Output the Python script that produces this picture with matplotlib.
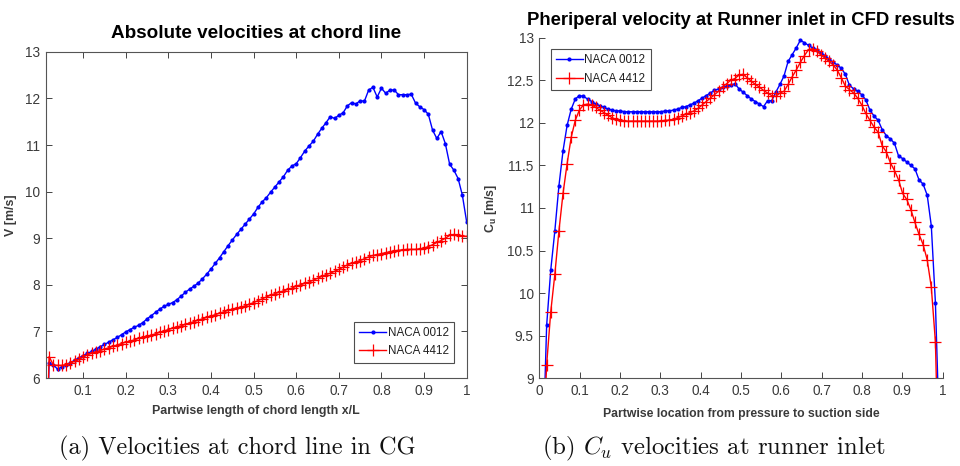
import numpy as np
import matplotlib
matplotlib.use("Agg")
import matplotlib.pyplot as plt
from matplotlib.ticker import FormatStrFormatter, FixedLocator

plt.rcParams['font.family'] = ['Liberation Sans', 'DejaVu Sans']
plt.rcParams['mathtext.fontset'] = 'custom'
plt.rcParams['mathtext.rm'] = 'Liberation Sans'
plt.rcParams['mathtext.bf'] = 'Liberation Sans:bold'
plt.rcParams['mathtext.it'] = 'Liberation Sans:italic'

# ---------------- data: (a) chord line ----------------
chord_x = np.round(np.arange(1, 101) / 100.0, 2)
naca0012_chord = [
    3.0, 6.32, 6.28, 6.19, 6.24, 6.28, 6.33, 6.38, 6.43, 6.48,
    6.53, 6.57, 6.62, 6.67, 6.72, 6.77, 6.82, 6.87, 6.93, 6.99,
    7.04, 7.09, 7.13, 7.19, 7.27, 7.34, 7.41, 7.48, 7.54, 7.58,
    7.62, 7.68, 7.76, 7.84, 7.91, 7.97, 8.04, 8.13, 8.23, 8.34,
    8.46, 8.58, 8.71, 8.84, 8.96, 9.08, 9.19, 9.30, 9.41, 9.52,
    9.66, 9.78, 9.87, 9.99, 10.10, 10.21, 10.32, 10.46, 10.55, 10.60,
    10.73, 10.87, 10.98, 11.08, 11.23, 11.36, 11.48, 11.61, 11.57, 11.64,
    11.69, 11.84, 11.91, 11.88, 11.95, 11.94, 12.18, 12.24, 12.03, 12.22,
    12.11, 12.18, 12.18, 12.08, 12.08, 12.08, 12.09, 11.90, 11.82, 11.76,
    11.66, 11.32, 11.14, 11.29, 11.03, 10.59, 10.46, 10.28, 9.92, 9.35,
]
naca4412_chord = [
    3.0, 6.46, 6.28, 6.27, 6.27, 6.29, 6.32, 6.36, 6.40, 6.46,
    6.50, 6.53, 6.56, 6.59, 6.62, 6.65, 6.68, 6.71, 6.74, 6.77,
    6.79, 6.82, 6.85, 6.87, 6.90, 6.92, 6.95, 6.98, 7.01, 7.04,
    7.07, 7.10, 7.12, 7.15, 7.18, 7.21, 7.24, 7.27, 7.30, 7.33,
    7.36, 7.39, 7.42, 7.45, 7.48, 7.50, 7.52, 7.55, 7.58, 7.62,
    7.66, 7.70, 7.74, 7.78, 7.81, 7.84, 7.87, 7.90, 7.93, 7.97,
    8.00, 8.03, 8.06, 8.10, 8.14, 8.18, 8.22, 8.25, 8.29, 8.33,
    8.38, 8.43, 8.46, 8.49, 8.52, 8.56, 8.60, 8.63, 8.65, 8.67,
    8.69, 8.71, 8.73, 8.74, 8.75, 8.76, 8.76, 8.76, 8.77, 8.79,
    8.82, 8.86, 8.91, 8.95, 9.00, 9.06, 9.08, 9.06, 9.04, 9.04,
]

# ---------------- data: (b) runner inlet ----------------
inlet_x = np.linspace(0.008, 0.992, 98)
naca0012_cu = [
    8.0, 9.62, 10.27, 10.73, 11.26, 11.67, 11.97, 12.16, 12.28, 12.32,
    12.31, 12.28, 12.25, 12.22, 12.20, 12.18, 12.16, 12.15, 12.14, 12.14,
    12.13, 12.13, 12.13, 12.13, 12.13, 12.13, 12.13, 12.13, 12.13, 12.13,
    12.14, 12.14, 12.15, 12.16, 12.18, 12.19, 12.21, 12.23, 12.26, 12.29,
    12.32, 12.35, 12.38, 12.40, 12.42, 12.43, 12.44, 12.46, 12.40, 12.36,
    12.32, 12.28, 12.25, 12.22, 12.19, 12.26, 12.26, 12.36, 12.45, 12.55,
    12.72, 12.80, 12.88, 12.97, 12.94, 12.91, 12.88, 12.86, 12.82, 12.79,
    12.75, 12.71, 12.68, 12.64, 12.57, 12.44, 12.40, 12.37, 12.33, 12.27,
    12.15, 12.08, 12.03, 11.92, 11.85, 11.81, 11.76, 11.61, 11.58, 11.54,
    11.50, 11.46, 11.33, 11.28, 11.15, 10.79, 9.89, 8.3,
]
naca4412_cu = [
    8.0, 9.16, 9.78, 10.22, 10.73, 11.17, 11.52, 11.83, 12.03, 12.15,
    12.21, 12.22, 12.21, 12.18, 12.15, 12.12, 12.09, 12.06, 12.04, 12.03,
    12.02, 12.02, 12.02, 12.02, 12.02, 12.02, 12.02, 12.02, 12.02, 12.02,
    12.03, 12.03, 12.04, 12.06, 12.08, 12.10, 12.12, 12.14, 12.17, 12.21,
    12.25, 12.29, 12.33, 12.37, 12.42, 12.46, 12.50, 12.52, 12.56, 12.57,
    12.53, 12.49, 12.45, 12.42, 12.38, 12.35, 12.32, 12.31, 12.35, 12.37,
    12.45, 12.54, 12.62, 12.71, 12.79, 12.86, 12.87, 12.84, 12.80, 12.76,
    12.72, 12.68, 12.62, 12.53, 12.43, 12.39, 12.35, 12.29, 12.21, 12.11,
    12.03, 11.95, 11.89, 11.73, 11.66, 11.53, 11.44, 11.33, 11.17, 11.10,
    10.98, 10.83, 10.69, 10.57, 10.39, 10.07, 9.43, 7.5,
]

series_labels = ['NACA 0012', 'NACA 4412']
left_xticks = [0.1, 0.2, 0.3, 0.4, 0.5, 0.6, 0.7, 0.8, 0.9, 1.0]
left_yticks = [6, 7, 8, 9, 10, 11, 12, 13]
right_xticks = [0, 0.1, 0.2, 0.3, 0.4, 0.5, 0.6, 0.7, 0.8, 0.9, 1.0]
right_yticks = [9, 9.5, 10, 10.5, 11, 11.5, 12, 12.5, 13]

AXC = '#3a3a3a'
TICKC = '#3a3a3a'

fig = plt.figure(figsize=(9.6, 4.66), dpi=100)

def style(ax, box):
    for s in ax.spines.values():
        s.set_color('#555555')
        s.set_linewidth(0.8)
    if not box:
        ax.spines['top'].set_visible(False)
        ax.spines['right'].set_visible(False)
    ax.tick_params(direction='in', length=4, width=0.7, color='#444444',
                   labelsize=9.8, labelcolor=TICKC, top=box, right=box, pad=4)
    ax.xaxis.set_major_formatter(FormatStrFormatter('%g'))
    ax.yaxis.set_major_formatter(FormatStrFormatter('%g'))

def legend(ax, loc, anchor):
    lg = ax.legend(loc=loc, fontsize=8.4, frameon=True, fancybox=False,
                   edgecolor='#222222', borderpad=0.45, labelspacing=0.55,
                   handlelength=2.3, handletextpad=0.15, borderaxespad=0,
                   bbox_to_anchor=anchor)
    lg.get_frame().set_linewidth(0.8)
    for t in lg.get_texts():
        t.set_color('#222222')
    return lg

# ---- left ----
ax1 = fig.add_axes([0.0476, 0.1888, 0.4385, 0.700])
ax1.plot(chord_x, naca0012_chord, color='#0000ff', lw=1.0, marker='.', ms=4,
         label=series_labels[0])
ax1.plot(chord_x, naca4412_chord, color='#ff0000', lw=1.0, marker='+', ms=8,
         mew=0.9, label=series_labels[1])
ax1.set_xlim(0.012, 1.0)
ax1.set_ylim(6, 13)
ax1.xaxis.set_major_locator(FixedLocator(left_xticks))
ax1.yaxis.set_major_locator(FixedLocator(left_yticks))
style(ax1, True)
ax1.set_title('Absolute velocities at chord line', fontsize=13.6,
              fontweight='bold', pad=10)
ax1.set_xlabel('Partwise length of chord length x/L', fontsize=8.9,
               fontweight='bold', color=AXC, labelpad=5)
ax1.set_ylabel('V [m/s]', fontsize=8.9, fontweight='bold', color=AXC, labelpad=6)
legend(ax1, 'lower right', (0.97, 0.047))

# ---- right ----
ax2 = fig.add_axes([0.5618, 0.1882, 0.4202, 0.731])
ax2.plot(inlet_x, naca0012_cu, color='#0000ff', lw=1.0, marker='.', ms=4,
         label=series_labels[0])
ax2.plot(inlet_x, naca4412_cu, color='#ff0000', lw=1.0, marker='+', ms=8,
         mew=0.9, label=series_labels[1])
ax2.set_xlim(0, 1)
ax2.set_ylim(9, 13)
ax2.xaxis.set_major_locator(FixedLocator(right_xticks))
ax2.yaxis.set_major_locator(FixedLocator(right_yticks))
style(ax2, False)
ax2.set_title('Pheriperal velocity at Runner inlet in CFD results', fontsize=13.3,
              fontweight='bold', pad=9)
ax2.set_xlabel('Partwise location from pressure to suction side', fontsize=8.8,
               fontweight='bold', color=AXC, labelpad=7)
ax2.set_ylabel(r'C$_\mathbf{u}$ [m/s]', fontsize=8.9, fontweight='bold',
               color=AXC, labelpad=6)
legend(ax2, 'upper left', (0.028, 0.966))

# ---- captions ----
fig.text(0.247, 0.038, '(a) Velocities at chord line in CG', fontsize=17.5,
         family='cmr10', ha='center', va='center', color='#111111')
fig.text(0.743, 0.038, r'(b) $C_u$ velocities at runner inlet', fontsize=17.8,
         family='cmr10', ha='center', va='center', color='#111111',
         math_fontfamily='cm')

fig.savefig('out.png', dpi=100)
